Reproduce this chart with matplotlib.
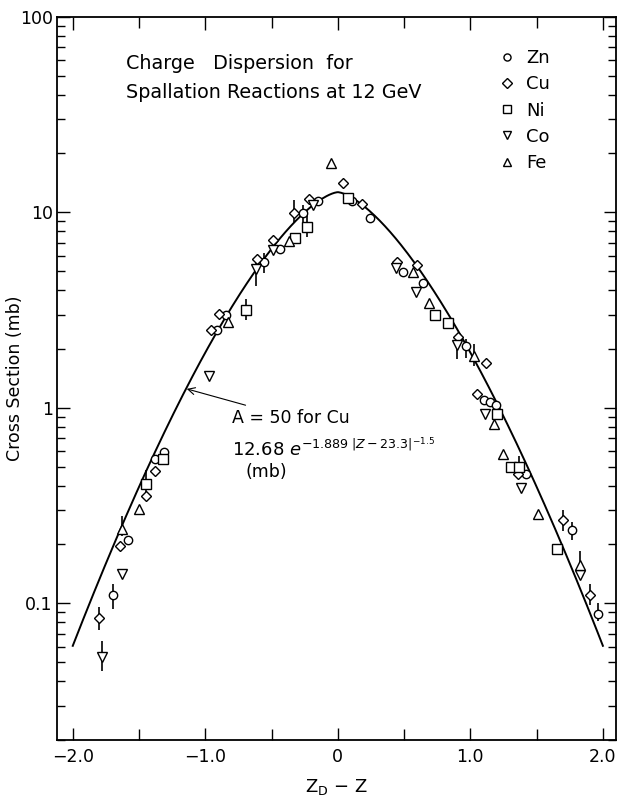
import matplotlib
matplotlib.use('Agg')
import matplotlib.pyplot as plt
import numpy as np

# data ------------------------------------------------------------------------
zn_x = [-1.31, -1.38, -0.91, -0.84, -0.56, -0.44, -0.26, -0.15, 0.105, 0.24, 0.49, 0.64,
        0.97, 1.10, 1.15, 1.19, 1.42, 1.77, 1.96, -1.58, -1.70]
zn_y = [0.595, 0.548, 2.5, 3.0, 5.6, 6.5, 9.9, 11.4, 11.4, 9.4, 4.98, 4.37,
        2.08, 1.10, 1.07, 1.035, 0.46, 0.237, 0.088, 0.21, 0.11]

cu_x = [-1.38, -1.45, -1.64, -1.80, -0.96, -0.90, -0.61, -0.49, -0.33, -0.22, 0.04, 0.18,
        0.45, 0.60, 0.91, 1.12, 1.05, 1.36, 1.70, 1.90]
cu_y = [0.475, 0.354, 0.196, 0.084, 2.5, 3.03, 5.8, 7.18, 9.9, 11.66, 14.1, 11.0,
        5.6, 5.35, 2.29, 1.70, 1.18, 0.46, 0.267, 0.11]

ni_x = [-1.32, -1.45, -0.69, -0.32, -0.23, 0.075, 0.73, 0.83, 1.20, 1.31, 1.37, 1.65]
ni_y = [0.55, 0.41, 3.18, 7.4, 8.4, 11.9, 3.0, 2.73, 0.93, 0.50, 0.50, 0.19]

co_x = [-1.63, -1.78, -0.97, -0.62, -0.49, -0.19, 0.44, 0.59, 0.90, 1.11, 1.38, 1.83]
co_y = [0.141, 0.053, 1.46, 5.1, 6.45, 10.9, 5.17, 3.9, 2.1, 0.93, 0.39, 0.14]

fe_x = [-1.50, -1.63, -0.83, -0.37, -0.05, 0.57, 0.69, 1.03, 1.18, 1.25, 1.51, 1.83]
fe_y = [0.303, 0.24, 2.76, 7.1, 17.8, 4.93, 3.42, 1.85, 0.83, 0.58, 0.286, 0.158]

# error bars (x, low, high)
err_x = [-1.45, -1.63, -1.70, -1.80, -1.78, -0.69, -0.62, -0.56, -0.33, -0.26, -0.23,
         0.90, 0.97, 1.03, 1.37, 1.70, 1.77, 1.83, 1.90, 1.96]
err_lo = [0.36, 0.22, 0.094, 0.073, 0.045, 2.8, 4.2, 4.9, 8.8, 8.3, 7.45,
          1.78, 1.8, 1.64, 0.475, 0.235, 0.21, 0.138, 0.098, 0.081]
err_hi = [0.48, 0.28, 0.125, 0.096, 0.064, 3.6, 5.55, 6.2, 11.5, 10.9, 10.2,
          2.35, 2.26, 2.13, 0.57, 0.30, 0.26, 0.185, 0.125, 0.10]

# fit given on the figure: 12.68 exp(-1.889 |x|^1.5)
fit_amp = 12.68
fit_k = 1.889
fit_pow = 1.5

# plot ------------------------------------------------------------------------
fig = plt.figure(figsize=(6.18, 8.0), dpi=100)
ax = fig.add_axes([0.092, 0.075, 0.905, 0.904])

xc = np.linspace(-2.0, 2.0, 400)
ax.plot(xc, fit_amp * np.exp(-fit_k * np.abs(xc) ** fit_pow), color='k', lw=1.4, zorder=2)

ax.vlines(err_x, err_lo, err_hi, color='k', lw=1.2, zorder=3)

mk = dict(ls='none', mfc='white', mec='k', mew=1.0, zorder=4)
ax.plot(zn_x, zn_y, marker='o', ms=6, label='Zn', **mk)
ax.plot(cu_x, cu_y, marker='D', ms=5.5, label='Cu', **mk)
ax.plot(ni_x, ni_y, marker='s', ms=6.5, label='Ni', **mk)
ax.plot(co_x, co_y, marker='v', ms=6.5, label='Co', **mk)
ax.plot(fe_x, fe_y, marker='^', ms=6.5, label='Fe', **mk)

ax.set_yscale('log')
ax.set_xlim(-2.12, 2.10)
ax.set_ylim(0.02, 100)
ax.set_xticks([-2.0, -1.0, 0, 1.0, 2.0])
ax.set_xticklabels(['\u22122.0', '\u22121.0', '0', '1.0', '2.0'])
ax.set_xticks([-1.5, -0.5, 0.5, 1.5], minor=True)
ax.set_yticks([0.1, 1, 10, 100])
ax.set_yticklabels(['0.1', '1', '10', '100'])
ax.tick_params(which='both', direction='in', top=True, right=True, labelsize=12.5, width=1.0)
ax.tick_params(which='major', length=9, pad=6)
ax.tick_params(axis='y', which='major', pad=3)
ax.tick_params(which='minor', length=6)
ax.tick_params(axis='x', which='minor', length=8)
for s in ax.spines.values():
    s.set_linewidth(1.3)

ax.set_ylabel('Cross Section (mb)', fontsize=12.5)
ax.yaxis.set_label_coords(-0.058, 0.5)
ax.set_xlabel('Z$_\\mathregular{D}$ \u2212 Z', fontsize=13, labelpad=8)

ax.text(-1.6, 58, 'Charge   Dispersion  for', fontsize=13.8, va='center')
ax.text(-1.6, 41, 'Spallation Reactions at 12 GeV', fontsize=13.8, va='center')

ax.legend(loc='upper left', frameon=False, fontsize=13, handlelength=1.0, handletextpad=0.6,
          labelspacing=0.45, borderaxespad=0.0, markerscale=0.85,
          bbox_to_anchor=(0.775, 0.965))

ax.annotate('A = 50 for Cu', xy=(-1.14, 1.25), xytext=(-0.80, 0.89),
            fontsize=12.5, va='center',
            arrowprops=dict(arrowstyle='->', color='k', lw=0.8, shrinkA=2, shrinkB=0))
ax.text(-0.80, 0.62, r'12.68 $e^{-1.889\ |Z-23.3|^{-1.5}}$', fontsize=13, va='center')
ax.text(-0.70, 0.47, '(mb)', fontsize=12.5, va='center')

plt.savefig('out.png', dpi=100)
